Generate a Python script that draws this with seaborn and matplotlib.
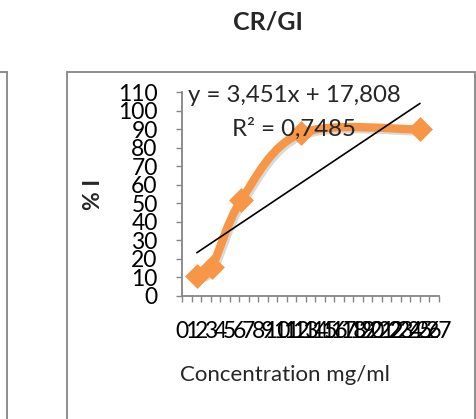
import numpy as np
import pandas as pd
import matplotlib
matplotlib.use("Agg")
import matplotlib.pyplot as plt
import matplotlib.patheffects as pe
from matplotlib.path import Path
from matplotlib.patches import PathPatch, Rectangle
from matplotlib.lines import Line2D
import seaborn as sns

# ---- data ----
concentration = [1.5625, 3.125, 6.25, 12.5, 25]
inhibition = [10.8, 15.5, 52, 87.9, 90]
trend_slope = 3.451
trend_intercept = 17.808
equation_text = "y = 3,451x + 17,808"
r2_text = "R² = 0,7485"
x_ticks = list(range(0, 28))
y_ticks = list(range(0, 111, 10))
title = "CR/GI"
x_label = "Concentration mg/ml"
y_label = "% I"

sns.set_theme(style="white")
plt.rcParams['font.family'] = ['Lato', 'DejaVu Sans']

W, H = 477, 419
fig = plt.figure(figsize=(W / 100, H / 100), dpi=100)
fig.patch.set_facecolor("white")

def fx(px):
    return px / W

def fy(py):
    return 1 - py / H

ax_l, ax_r, ax_t, ax_b = 182, 439, 92.5, 295.5
ax = fig.add_axes([fx(ax_l), fy(ax_b), fx(ax_r) - fx(ax_l), fy(ax_t) - fy(ax_b)])
ax.set_facecolor("none")

orange = "#F79646"
gray = "#868686"

df = pd.DataFrame({"x": concentration, "y": inhibition})

# smoothed line (Excel-style smooth line through the points)
pts = np.column_stack([concentration, inhibition]).astype(float)
n = len(pts)
verts = [pts[0]]
codes = [Path.MOVETO]
for i in range(n - 1):
    p0 = pts[i - 1] if i > 0 else pts[i]
    p1 = pts[i]
    p2 = pts[i + 1]
    p3 = pts[i + 2] if i + 2 < n else pts[i + 1]
    c1 = p1 + (p2 - p0) / 6.0
    c2 = p2 - (p3 - p1) / 6.0
    verts += [c1, c2, p2]
    codes += [Path.CURVE4] * 3
curve = PathPatch(Path(verts, codes), facecolor="none", edgecolor=orange,
                  lw=6, capstyle="round", joinstyle="round", zorder=3,
                  path_effects=[pe.SimpleLineShadow(offset=(1.5, -1.5), shadow_color="black",
                                                    alpha=0.15), pe.Normal()])
ax.add_patch(curve)

sns.scatterplot(data=df, x="x", y="y", marker="D", s=160, color=orange,
                edgecolor=orange, linewidth=0, ax=ax, zorder=4, legend=False)

# linear trendline
tx = np.array([concentration[0], concentration[-1]])
ax.plot(tx, trend_slope * tx + trend_intercept, color="black", lw=1.2, zorder=5)

ax.set_xlim(0, 27)
ax.set_ylim(0, 110)
ax.set_xticks(x_ticks)
ax.set_xticklabels([str(t) for t in x_ticks])
ax.set_yticks(y_ticks)
ax.set_yticklabels([str(t) for t in y_ticks])
ax.set_xlabel("")
ax.set_ylabel("")
for s in ["top", "right"]:
    ax.spines[s].set_visible(False)
for s in ["left", "bottom"]:
    ax.spines[s].set_color(gray)
    ax.spines[s].set_linewidth(1.3)
ax.tick_params(axis="both", which="major", direction="out", length=4.5, width=1,
               color=gray, labelsize=16.5, labelcolor="black", bottom=True, left=True)
ax.tick_params(axis="x", pad=14)
ax.tick_params(axis="y", pad=13)
ax.grid(False)

# texts
fig.text(fx(268), fy(22), title, ha="center", va="center", fontsize=18, fontweight="bold")
fig.text(fx(294), fy(95), equation_text, ha="center", va="center", fontsize=17.3)
fig.text(fx(293.5), fy(129), r2_text, ha="center", va="center", fontsize=17.3)
fig.text(fx(93), fy(194), y_label, ha="center", va="center", fontsize=16.5,
         fontweight="bold", rotation=90)
fig.text(fx(285), fy(375), x_label, ha="center", va="center", fontsize=16)

# chart frame(s)
fig.add_artist(Rectangle((fx(67), fy(440)), fx(475) - fx(67), fy(72) - fy(440),
                         transform=fig.transFigure, facecolor="none", edgecolor=gray, lw=1.3))
fig.add_artist(Line2D([fx(7), fx(7)], [fy(72), fy(440)], transform=fig.transFigure,
                      color=gray, lw=1.3))
fig.add_artist(Line2D([fx(-5), fx(7)], [fy(72), fy(72)], transform=fig.transFigure,
                      color=gray, lw=1.3))

fig.savefig("out.png", dpi=100, facecolor="white")
